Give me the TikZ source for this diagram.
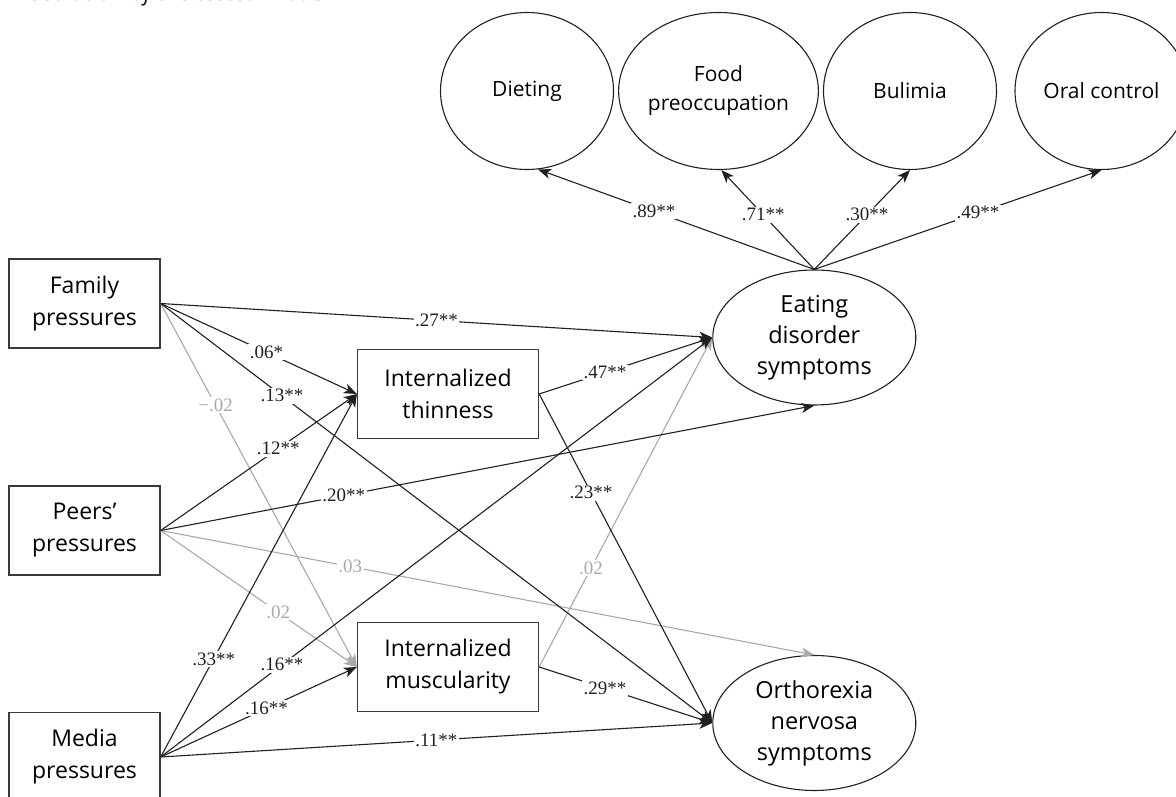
\documentclass[tikz,border=0pt]{standalone}
\usepackage{fontspec}
\setmainfont{Open Sans}
\newfontfamily\coeffont{Liberation Serif}
\usetikzlibrary{arrows.meta,shapes.geometric}
\definecolor{PathBlack}{HTML}{231F20}
\definecolor{PathGray}{HTML}{A7A9AC}
\definecolor{BoxLine}{HTML}{3A3A3A}
\tikzset{
  smbox/.style={draw=BoxLine, line width=1.3pt, minimum height=89pt, inner sep=0pt, align=center, font=\fontsize{23}{32}\selectfont},
  smlatent/.style={draw=PathBlack, ellipse, line width=1.1pt, minimum width=203pt, minimum height=135pt, inner sep=0pt, align=center, font=\fontsize{23.5}{31}\selectfont},
  smfactor/.style={draw=PathBlack, ellipse, line width=1.1pt, minimum width=173pt, minimum height=157pt, inner sep=0pt, align=center, font=\fontsize{21}{29}\selectfont},
  smpath/.style={-{Stealth[length=13pt,width=10pt,inset=3.5pt]}, line width=1.1pt, draw=PathBlack},
  smfaint/.style={-{Stealth[length=13pt,width=10pt,inset=3.5pt]}, line width=1.1pt, draw=PathGray},
  smcoef/.style={fill=white, inner sep=1.5pt, text=PathBlack, font=\coeffont\fontsize{19}{20}\selectfont},
  smcoefgray/.style={smcoef, text=PathGray}
}

\begin{document}
\begin{tikzpicture}[x=1pt,y=1pt]
  \useasboundingbox (0,0) rectangle (1176,796);
  \clip (0,0) rectangle (1176,796);
  \node[anchor=base west, inner sep=0pt, text=PathBlack] (caption) at (12,795.5)
    {\fontsize{23.5}{28}\selectfont\itshape Illustration of the tested model};

  % observed predictors and mediators
  \node[smbox, minimum width=151pt] (fam) at (84.5,492.5) {Family\\pressures};
  \node[smbox, minimum width=151pt] (peer) at (84.5,265.5) {Peers'\\pressures};
  \node[smbox, minimum width=151pt] (media) at (84.5,39) {Media\\pressures};
  \node[smbox, minimum width=181pt] (thin) at (448,402) {Internalized\\thinness};
  \node[smbox, minimum width=181pt] (musc) at (448,129) {Internalized\\muscularity};

  % latent outcomes and indicators
  \node[smlatent] (eds) at (814.3,458.5) {Eating\\disorder\\symptoms};
  \node[smlatent] (orth) at (814.3,73) {Orthorexia\\nervosa\\symptoms};
  \node[smfactor] (diet) at (527,705) {Dieting};
  \node[smfactor] (food) at (718.5,705) {Food\\preoccupation};
  \node[smfactor] (bul) at (910,705) {Bulimia};
  \node[smfactor] (oral) at (1101.5,705) {Oral control};

  % non-significant paths
  \draw[smfaint] (fam.east) -- node[smcoefgray, pos=.28] {−.02} (musc.west);
  \draw[smfaint] (peer.east) -- node[smcoefgray, pos=.29] {.03} (orth.north);
  \draw[smfaint] (peer.east) -- node[smcoefgray, pos=.6] {.02} (musc.west);
  \draw[smfaint] (musc.east) -- node[smcoefgray, pos=.3] {.02} (eds.west);

  % significant paths
  \draw[smpath] (fam.east) -- node[smcoef, pos=.5] {.27**} (eds.west);
  \draw[smpath] (fam.east) -- node[smcoef, pos=.54] {.06*} (thin.west);
  \draw[smpath] (fam.east) -- node[smcoef, pos=.22] {.13**} (orth.west);
  \draw[smpath] (peer.east) -- node[smcoef, pos=.6] {.12**} (thin.west);
  \draw[smpath] (peer.east) -- node[smcoef, pos=.28] {.20**} (eds.south);
  \draw[smpath] (media.east) -- node[smcoef, pos=.27] {.33**} (thin.west);
  \draw[smpath] (media.east) -- node[smcoef, pos=.22] {.16**} (eds.west);
  \draw[smpath] (media.east) -- node[smcoef, pos=.54] {.16**} (musc.west);
  \draw[smpath] (media.east) -- node[smcoef, pos=.5] {.11**} (orth.west);
  \draw[smpath] (thin.east) -- node[smcoef, pos=.38] {.47**} (eds.west);
  \draw[smpath] (thin.east) -- node[smcoef, pos=.3] {.23**} (orth.west);
  \draw[smpath] (musc.east) -- node[smcoef, pos=.38] {.29**} (orth.west);

  % loadings
  \draw[smpath] (eds.north) -- node[smcoef, pos=.58] {.89**} (diet.-82);
  \draw[smpath] (eds.north) -- node[smcoef, pos=.55] {.71**} (food.-88);
  \draw[smpath] (eds.north) -- node[smcoef, pos=.55] {.30**} (bul.south);
  \draw[smpath] (eds.north) -- node[smcoef, pos=.57] {.49**} (oral.south);
\end{tikzpicture}
\end{document}
